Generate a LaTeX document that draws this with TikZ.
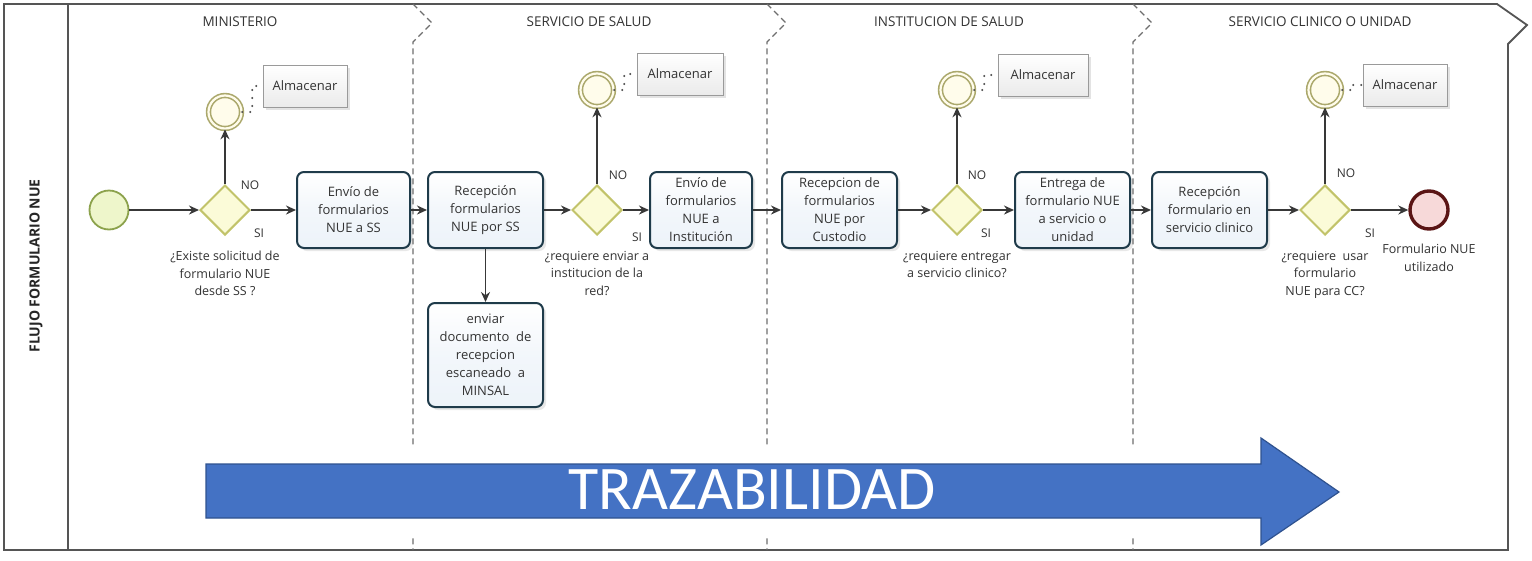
\documentclass[tikz,border=0pt]{standalone}
\usepackage{fontspec}
\setmainfont{Open Sans}
\newfontfamily\trazfont{Carlito}
\usetikzlibrary{arrows.meta,shadows,shapes.geometric}
\definecolor{taskborder}{HTML}{1F3B4A}
\definecolor{taskfill}{HTML}{EDF3F9}
\definecolor{gwborder}{HTML}{C2C36A}
\definecolor{gwfill}{HTML}{FBFBD8}
\definecolor{startborder}{HTML}{8CA24C}
\definecolor{startfill}{HTML}{EEF6CB}
\definecolor{interborder}{HTML}{ABA86C}
\definecolor{interfill}{HTML}{FFFCEB}
\definecolor{endborder}{HTML}{5A1414}
\definecolor{endfill}{HTML}{F7D9D9}
\definecolor{annoborder}{HTML}{9A9A9A}
\definecolor{textc}{HTML}{333333}
\definecolor{framec}{HTML}{555555}
\definecolor{dashc}{HTML}{6E6E6E}
\definecolor{arrowfill}{HTML}{4472C4}
\definecolor{arrowborder}{HTML}{2F528F}
\begin{document}
\begin{tikzpicture}[x=1pt,y=-1pt,
  font=\fontsize{13}{18}\selectfont, text=textc,
  tasknode/.style={draw=taskborder, line width=2pt, rounded corners=7pt,
    top color=white, bottom color=taskfill, middle color=taskfill!70!white,
    align=center, minimum height=76pt, inner sep=0pt,
    drop shadow={opacity=0.18, shadow xshift=3pt, shadow yshift=-3pt}},
  gw/.style={diamond, draw=gwborder, fill=gwfill, line width=2pt,
    minimum width=50pt, minimum height=50pt, inner sep=0pt},
  startev/.style={circle, draw=startborder, fill=startfill, line width=1.8pt,
    minimum size=39pt, inner sep=0pt},
  interev/.style={circle, draw=interborder, line width=1.6pt, double=interfill,
    double distance=2.2pt, fill=interfill, minimum size=33pt, inner sep=0pt},
  endev/.style={circle, draw=endborder, fill=endfill, line width=3.4pt,
    minimum size=38pt, inner sep=0pt},
  anno/.style={draw=annoborder, line width=0.9pt, top color=white, bottom color=black!8,
    minimum height=42pt, inner sep=0pt,
    drop shadow={opacity=0.22, shadow xshift=3pt, shadow yshift=-3pt}},
  flow/.style={draw=black!78, line width=1.6pt, -{Stealth[length=10pt,width=9pt]}},
  assoc/.style={draw=black!70, line width=2.2pt, line cap=round, dash pattern=on 0pt off 8pt},
  lbl/.style={font=\fontsize{12}{14}\selectfont, inner sep=0pt},
  quest/.style={font=\fontsize{12.5}{17.5}\selectfont, align=center, anchor=north, inner sep=0pt},
  lanetitle/.style={font=\fontsize{13.5}{16}\selectfont, inner sep=0pt},
  sep/.style={draw=dashc, line width=1.3pt, dash pattern=on 6pt off 4pt}
]
\useasboundingbox (0,0) rectangle (1532,560);
\fill[white] (0,0) rectangle (1532,560);

% frame
\draw[framec, line width=1.8pt] (4,4) -- (1497,4) -- (1527,25) -- (1508,44) -- (1508,550) -- (4,550) -- cycle;
\draw[framec, line width=1.5pt] (68,4) -- (68,550);
\node[rotate=90, font=\bfseries\fontsize{14}{16}\selectfont, text=black!85, inner sep=0pt] (pool) at (36,266) {FLUJO FORMULARIO NUE};

% lane separators
\draw[sep] (413,4) -- (432,23) -- (413,42) -- (413,550);
\draw[sep] (767,4) -- (786,23) -- (767,42) -- (767,550);
\draw[sep] (1133,4) -- (1152,23) -- (1133,42) -- (1133,550);

% lane titles
\node[lanetitle] (l1) at (240,22) {MINISTERIO};
\node[lanetitle] (l2) at (589,22) {SERVICIO DE SALUD};
\node[lanetitle] (l3) at (949,22) {INSTITUCION DE SALUD};
\node[lanetitle] (l4) at (1320,22) {SERVICIO CLINICO O UNIDAD};

% ---------- lane 1
\node[startev] (s) at (109,210) {};
\node[gw] (g1) at (225,210) {};
\node[interev] (e1) at (225,112) {};
\node[anno, minimum width=84pt] (a1) at (305,86) {Almacenar};
\node[tasknode, minimum width=113pt] (t1) at (353.5,210) {Envío de\\formularios\\NUE a SS};
\node[quest] (q1) at (225,251) {¿Existe solicitud de\\formulario NUE\\desde SS ?};
\node[lbl] (no1) at (250,185) {NO};
\node[lbl] (si1) at (259,233) {SI};

% ---------- lane 2
\node[tasknode, minimum width=115pt] (t2) at (485.5,210) {Recepción\\formularios\\NUE por SS};
\node[tasknode, minimum width=115pt, minimum height=104pt] (t3) at (485.5,355) {enviar\\documento\ \ de\\recepcion\\escaneado\ \ a\\MINSAL};
\node[gw] (g2) at (597,210) {};
\node[interev] (e2) at (597,90) {};
\node[anno, minimum width=86pt] (a2) at (680,74) {Almacenar};
\node[tasknode, minimum width=102pt] (t4) at (701,210) {Envío de\\formularios\\NUE a\\Institución};
\node[quest] (q2) at (597,251) {¿requiere enviar a\\institucion de la\\red?};
\node[lbl] (no2) at (618,175) {NO};
\node[lbl] (si2) at (637,237) {SI};

% ---------- lane 3
\node[tasknode, minimum width=115pt] (t5) at (839.5,210) {Recepcion de\\formularios\\NUE por\\Custodio};
\node[gw] (g3) at (957,210) {};
\node[interev] (e3) at (957,90) {};
\node[anno, minimum width=90pt] (a3) at (1043,75) {Almacenar};
\node[tasknode, minimum width=115pt] (t6) at (1072.5,210) {Entrega de\\formulario NUE\\a servicio o\\unidad};
\node[quest] (q3) at (957,251) {¿requiere entregar\\a servicio clinico?};
\node[lbl] (no3) at (977,175) {NO};
\node[lbl] (si3) at (986,233) {SI};

% ---------- lane 4
\node[tasknode, minimum width=115pt] (t7) at (1209.5,210) {Recepción\\formulario en\\servicio clinico};
\node[gw] (g4) at (1325,210) {};
\node[interev] (e4) at (1325,90) {};
\node[anno, minimum width=84pt] (a4) at (1405,85) {Almacenar};
\node[endev] (end) at (1429,210) {};
\node[quest] (q4) at (1325,251) {¿requiere\ \ usar\\formulario\\NUE para CC?};
\node[quest] (qe) at (1429,244) {Formulario NUE\\utilizado};
\node[lbl] (no4) at (1346,173) {NO};
\node[lbl] (si4) at (1370,233) {SI};

% flows
\draw[flow] (s) -- (g1);
\draw[flow] (g1) -- (t1);
\draw[flow] (g1) -- (e1);
\draw[flow] (t1) -- (t2);
\draw[flow] (t2) -- (g2);
\draw[flow] (t2) -- (t3);
\draw[flow] (g2) -- (t4);
\draw[flow] (g2) -- (e2);
\draw[flow] (t4) -- (t5);
\draw[flow] (t5) -- (g3);
\draw[flow] (g3) -- (t6);
\draw[flow] (g3) -- (e3);
\draw[flow] (t6) -- (t7);
\draw[flow] (t7) -- (g4);
\draw[flow] (g4) -- (e4);
\draw[flow] (g4) -- (end);

% associations
\draw[assoc] (e1.east) -- ++(10,0) |- (a1.west);
\draw[assoc] (e2.east) -- ++(10,0) |- (a2.west);
\draw[assoc] (e3.east) -- ++(10,0) |- (a3.west);
\draw[assoc] (e4.east) -- ++(10,0) |- (a4.west);

% trazabilidad arrow
\fill[white] (200,447) rectangle (1345,537);
\draw[draw=arrowborder, fill=arrowfill, line width=1.2pt]
  (206,464) -- (1261,464) -- (1261,438) -- (1339,492) -- (1261,545) -- (1261,518) -- (206,518) -- cycle;
\node[font=\trazfont\fontsize{62}{62}\selectfont, text=white, inner sep=0pt] (traz) at (752,490) {TRAZABILIDAD};
\end{tikzpicture}
\end{document}
